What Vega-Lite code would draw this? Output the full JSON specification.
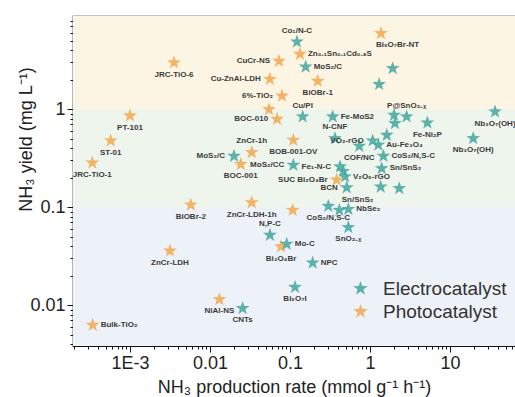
{
  "$schema": "https://vega.github.io/schema/vega-lite/v6.json",
  "width": 442,
  "height": 330,
  "autosize": {"type": "none"},
  "padding": {"left": 73, "top": 16, "right": 0, "bottom": 51},
  "background": "white",
  "config": {
    "view": {"stroke": "#111", "strokeWidth": 1.2},
    "font": "Liberation Sans"
  },
  "datasets": {
    "bands": [
      {"lo": 1, "hi": 100, "band": "high"},
      {"lo": 0.1, "hi": 1, "band": "mid"},
      {"lo": 0.0001, "hi": 0.1, "band": "low"}
    ],
    "pts": [
      {"px": 0.122, "py": 4.86, "type": "Electrocatalyst", "label": "Co₁/N-C", "pos": "above"},
      {"px": 0.157, "py": 2.70, "type": "Electrocatalyst", "label": "MoS₂/C", "pos": "right"},
      {"px": 1.92, "py": 2.60, "type": "Electrocatalyst", "label": "", "pos": "none"},
      {"px": 1.30, "py": 1.79, "type": "Electrocatalyst", "label": "", "pos": "none"},
      {"px": 0.144, "py": 0.835, "type": "Electrocatalyst", "label": "Cu/PI", "pos": "above"},
      {"px": 0.342, "py": 0.835, "type": "Electrocatalyst", "label": "Fe-MoS2", "pos": "right"},
      {"px": 2.0, "py": 0.869, "type": "Electrocatalyst", "label": "", "pos": "none"},
      {"px": 2.87, "py": 0.835, "type": "Electrocatalyst", "label": "P@SnO₂₋ₓ", "pos": "above"},
      {"px": 2.05, "py": 0.714, "type": "Electrocatalyst", "label": "", "pos": "none"},
      {"px": 5.21, "py": 0.725, "type": "Electrocatalyst", "label": "Fe-Ni₂P", "pos": "below"},
      {"px": 36.5, "py": 0.94, "type": "Electrocatalyst", "label": "Nb₃O₇(OH)", "pos": "below"},
      {"px": 19.5, "py": 0.502, "type": "Electrocatalyst", "label": "Nb₃O₇(OH)", "pos": "below"},
      {"px": 0.365, "py": 0.502, "type": "Electrocatalyst", "label": "N-CNF", "pos": "above"},
      {"px": 1.62, "py": 0.543, "type": "Electrocatalyst", "label": "", "pos": "none"},
      {"px": 1.08, "py": 0.475, "type": "Electrocatalyst", "label": "VO₂-rGO", "pos": "left"},
      {"px": 1.27, "py": 0.43, "type": "Electrocatalyst", "label": "Au-Fe₃O₄", "pos": "right"},
      {"px": 0.735, "py": 0.419, "type": "Electrocatalyst", "label": "COF/NC", "pos": "below"},
      {"px": 1.47, "py": 0.331, "type": "Electrocatalyst", "label": "CoS₂/N,S-C", "pos": "right"},
      {"px": 1.40, "py": 0.248, "type": "Electrocatalyst", "label": "Sn/SnS₂", "pos": "right"},
      {"px": 1.36, "py": 0.161, "type": "Electrocatalyst", "label": "", "pos": "none"},
      {"px": 2.32, "py": 0.155, "type": "Electrocatalyst", "label": "", "pos": "none"},
      {"px": 0.110, "py": 0.268, "type": "Electrocatalyst", "label": "MoS₂/CC", "pos": "left"},
      {"px": 0.422, "py": 0.258, "type": "Electrocatalyst", "label": "Fe₁-N-C", "pos": "left"},
      {"px": 0.464, "py": 0.232, "type": "Electrocatalyst", "label": "", "pos": "none"},
      {"px": 0.487, "py": 0.204, "type": "Electrocatalyst", "label": "V₂O₅-rGO", "pos": "right"},
      {"px": 0.512, "py": 0.158, "type": "Electrocatalyst", "label": "BCN", "pos": "left", "label2": "Sn/SnS₂"},
      {"px": 0.301, "py": 0.102, "type": "Electrocatalyst", "label": "CoS₂/N,S-C", "pos": "below"},
      {"px": 0.414, "py": 0.093, "type": "Electrocatalyst", "label": "", "pos": "none"},
      {"px": 0.536, "py": 0.095, "type": "Electrocatalyst", "label": "NbSe₂", "pos": "right"},
      {"px": 0.536, "py": 0.062, "type": "Electrocatalyst", "label": "SnO₂₋ₓ", "pos": "below"},
      {"px": 0.0562, "py": 0.0518, "type": "Electrocatalyst", "label": "N,P-C", "pos": "above"},
      {"px": 0.192, "py": 0.027, "type": "Electrocatalyst", "label": "NPC", "pos": "right"},
      {"px": 0.1155, "py": 0.0152, "type": "Electrocatalyst", "label": "Bi₅O₇I", "pos": "below"},
      {"px": 0.01995, "py": 0.331, "type": "Electrocatalyst", "label": "MoS₂/C", "pos": "left"},
      {"px": 0.0256, "py": 0.00925, "type": "Electrocatalyst", "label": "CNTs", "pos": "below"},
      {"px": 0.00355, "py": 2.97, "type": "Photocatalyst", "label": "JRC-TiO-6", "pos": "below"},
      {"px": 0.0729, "py": 3.09, "type": "Photocatalyst", "label": "CuCr-NS", "pos": "left"},
      {"px": 0.056, "py": 2.02, "type": "Photocatalyst", "label": "Cu-ZnAl-LDH", "pos": "left"},
      {"px": 0.0794, "py": 1.36, "type": "Photocatalyst", "label": "6%-TiO₂", "pos": "left"},
      {"px": 0.0546, "py": 0.99, "type": "Photocatalyst", "label": "", "pos": "none"},
      {"px": 0.069, "py": 0.79, "type": "Photocatalyst", "label": "BOC-010", "pos": "left"},
      {"px": 0.001, "py": 0.855, "type": "Photocatalyst", "label": "PT-101", "pos": "below"},
      {"px": 0.133, "py": 3.64, "type": "Photocatalyst", "label": "Zn₀.₁Sn₀.₁Cd₀.₈S", "pos": "right"},
      {"px": 0.222, "py": 1.93, "type": "Photocatalyst", "label": "BiOBr-1", "pos": "below"},
      {"px": 1.37, "py": 5.92, "type": "Photocatalyst", "label": "", "pos": "none", "label2": "Bi₅O₇Br-NT"},
      {"px": 0.110, "py": 0.483, "type": "Photocatalyst", "label": "BOB-001-OV", "pos": "below"},
      {"px": 0.000574, "py": 0.475, "type": "Photocatalyst", "label": "ST-01", "pos": "below"},
      {"px": 0.000338, "py": 0.283, "type": "Photocatalyst", "label": "JRC-TiO-1", "pos": "below"},
      {"px": 0.0332, "py": 0.361, "type": "Photocatalyst", "label": "ZnCr-1h", "pos": "above"},
      {"px": 0.0242, "py": 0.273, "type": "Photocatalyst", "label": "BOC-001", "pos": "below"},
      {"px": 0.383, "py": 0.189, "type": "Photocatalyst", "label": "SUC Bi₂O₄Br", "pos": "left"},
      {"px": 0.00575, "py": 0.105, "type": "Photocatalyst", "label": "BiOBr-2", "pos": "below"},
      {"px": 0.0332, "py": 0.111, "type": "Photocatalyst", "label": "ZnCr-LDH-1h", "pos": "below"},
      {"px": 0.108, "py": 0.093, "type": "Photocatalyst", "label": "", "pos": "none"},
      {"px": 0.0772, "py": 0.0394, "type": "Photocatalyst", "label": "Bi₃O₄Br", "pos": "below"},
      {"px": 0.00316, "py": 0.0358, "type": "Photocatalyst", "label": "ZnCr-LDH", "pos": "below"},
      {"px": 0.0131, "py": 0.0114, "type": "Photocatalyst", "label": "NiAl-NS", "pos": "below"},
      {"px": 0.000342, "py": 0.00625, "type": "Photocatalyst", "label": "Bulk-TiO₂", "pos": "right"},
      {"px": 0.091, "py": 0.0419, "type": "Electrocatalyst", "label": "Mo-C", "pos": "right"}
    ]
  },
  "resolve": {"scale": {"color": "independent"}, "axis": {"x": "independent", "y": "independent"}},
  "layer": [
    {
      "data": {"name": "bands"},
      "mark": {"type": "rect"},
      "encoding": {
        "x": {"datum": 0.0001, "type": "quantitative", "scale": {"type": "log", "domain": [0.000194, 64.9], "nice": false, "clamp": true}, "axis": null},
        "x2": {"datum": 1000},
        "y": {"field": "lo", "type": "quantitative", "scale": {"type": "log", "domain": [0.00382, 8.9], "nice": false, "clamp": true}, "axis": null},
        "y2": {"field": "hi"},
        "color": {"field": "band", "type": "nominal", "scale": {"domain": ["high", "mid", "low"], "range": ["#fdf5e3", "#eef5ec", "#edf1f8"]}, "legend": null}
      }
    },
    {
      "data": {"name": "pts"},
      "mark": {"type": "point", "shape": "M0,-1L0.235,-0.324L0.951,-0.309L0.38,0.124L0.588,0.809L0,0.4L-0.588,0.809L-0.38,0.124L-0.951,-0.309L-0.235,-0.324Z", "filled": true, "size": 210, "opacity": 0.88},
      "encoding": {
        "x": {
          "field": "px", "type": "quantitative",
          "scale": {"type": "log", "domain": [0.000194, 64.9], "nice": false, "clamp": true},
          "axis": {
            "orient": "bottom",
            "title": "NH₃ production rate (mmol g⁻¹ h⁻¹)",
            "titleFontSize": 18, "titleFontWeight": "normal", "titleColor": "#222", "titlePadding": 6,
            "grid": false, "domainColor": "#111", "tickColor": "#111", "labelColor": "#222",
            "labelFontSize": 18, "labelPadding": 2, "labelOverlap": false, "labelFlush": false,
            "tickSize": 6,
            "values": [0.001, 0.01, 0.1, 1, 10],
            "labelExpr": "datum.value < 0.002 ? '1E-3' : datum.value < 0.02 ? '0.01' : datum.value < 0.2 ? '0.1' : datum.value < 2 ? '1' : '10'"
          }
        },
        "y": {
          "field": "py", "type": "quantitative",
          "scale": {"type": "log", "domain": [0.00382, 8.9], "nice": false, "clamp": true},
          "axis": {
            "orient": "left",
            "title": "NH₃ yield (mg L⁻¹)",
            "titleFontSize": 18, "titleFontWeight": "normal", "titleColor": "#222",
            "titleX": -38, "titleY": 123, "titleAngle": 270, "titleBaseline": "bottom", "titleAnchor": "middle",
            "grid": false, "domainColor": "#111", "tickColor": "#111", "labelColor": "#222",
            "labelFontSize": 18, "labelPadding": 2, "labelOverlap": false, "labelFlush": false,
            "tickSize": 6,
            "values": [0.01, 0.1, 1],
            "labelExpr": "datum.value < 0.02 ? '0.01' : datum.value < 0.2 ? '0.1' : '1'"
          }
        },
        "color": {
          "field": "type", "type": "nominal",
          "scale": {"domain": ["Electrocatalyst", "Photocatalyst"], "range": ["#48a7a1", "#f2aa52"]},
          "legend": {
            "orient": "none", "legendX": 278, "legendY": 263, "title": null, "padding": 0,
            "labelFontSize": 19, "labelColor": "#333", "labelFont": "Liberation Sans",
            "symbolType": "M0,-1L0.235,-0.324L0.951,-0.309L0.38,0.124L0.588,0.809L0,0.4L-0.588,0.809L-0.38,0.124L-0.951,-0.309L-0.235,-0.324Z",
            "symbolSize": 230, "symbolOpacity": 0.88, "rowPadding": 3, "labelOffset": 13
          }
        }
      }
    },
    {
      "data": {"name": "pts"},
      "transform": [{"filter": "datum.pos == 'above'"}],
      "mark": {"type": "text", "fontSize": 8, "fontWeight": "bold", "color": "#3a3a3a", "baseline": "bottom", "dy": -7},
      "encoding": {
        "x": {"field": "px", "type": "quantitative", "scale": {"type": "log", "domain": [0.000194, 64.9], "nice": false, "clamp": true},
          "axis": {"orient": "bottom", "title": null, "labels": false, "domain": false, "grid": false, "tickSize": 3, "tickColor": "#111",
            "values": [0.0002,0.0003,0.0004,0.0005,0.0006,0.0007,0.0008,0.0009,0.002,0.003,0.004,0.005,0.006,0.007,0.008,0.009,0.02,0.03,0.04,0.05,0.06,0.07,0.08,0.09,0.2,0.3,0.4,0.5,0.6,0.7,0.8,0.9,2,3,4,5,6,7,8,9,20,30,40,50,60]}},
        "y": {"field": "py", "type": "quantitative", "scale": {"type": "log", "domain": [0.00382, 8.9], "nice": false, "clamp": true},
          "axis": {"orient": "left", "title": null, "labels": false, "domain": false, "grid": false, "tickSize": 3, "tickColor": "#111",
            "values": [0.004,0.005,0.006,0.007,0.008,0.009,0.02,0.03,0.04,0.05,0.06,0.07,0.08,0.09,0.2,0.3,0.4,0.5,0.6,0.7,0.8,0.9,2,3,4,5,6,7,8]}},
        "text": {"field": "label"}
      }
    },
    {
      "data": {"name": "pts"},
      "transform": [{"filter": "datum.pos == 'below'"}],
      "mark": {"type": "text", "fontSize": 8, "fontWeight": "bold", "color": "#3a3a3a", "baseline": "top", "dy": 8},
      "encoding": {
        "x": {"field": "px", "type": "quantitative", "scale": {"type": "log", "domain": [0.000194, 64.9], "nice": false, "clamp": true}, "axis": null},
        "y": {"field": "py", "type": "quantitative", "scale": {"type": "log", "domain": [0.00382, 8.9], "nice": false, "clamp": true}, "axis": null},
        "text": {"field": "label"}
      }
    },
    {
      "data": {"name": "pts"},
      "transform": [{"filter": "datum.pos == 'left'"}],
      "mark": {"type": "text", "fontSize": 8, "fontWeight": "bold", "color": "#3a3a3a", "align": "right", "baseline": "middle", "dx": -9},
      "encoding": {
        "x": {"field": "px", "type": "quantitative", "scale": {"type": "log", "domain": [0.000194, 64.9], "nice": false, "clamp": true}, "axis": null},
        "y": {"field": "py", "type": "quantitative", "scale": {"type": "log", "domain": [0.00382, 8.9], "nice": false, "clamp": true}, "axis": null},
        "text": {"field": "label"}
      }
    },
    {
      "data": {"name": "pts"},
      "transform": [{"filter": "datum.pos == 'right'"}],
      "mark": {"type": "text", "fontSize": 8, "fontWeight": "bold", "color": "#3a3a3a", "align": "left", "baseline": "middle", "dx": 8},
      "encoding": {
        "x": {"field": "px", "type": "quantitative", "scale": {"type": "log", "domain": [0.000194, 64.9], "nice": false, "clamp": true}, "axis": null},
        "y": {"field": "py", "type": "quantitative", "scale": {"type": "log", "domain": [0.00382, 8.9], "nice": false, "clamp": true}, "axis": null},
        "text": {"field": "label"}
      }
    },
    {
      "data": {"name": "pts"},
      "transform": [{"filter": "isValid(datum.label2)"}],
      "mark": {"type": "text", "fontSize": 8, "fontWeight": "bold", "color": "#3a3a3a", "align": "left", "baseline": "top", "dx": -5, "dy": 8},
      "encoding": {
        "x": {"field": "px", "type": "quantitative", "scale": {"type": "log", "domain": [0.000194, 64.9], "nice": false, "clamp": true}, "axis": null},
        "y": {"field": "py", "type": "quantitative", "scale": {"type": "log", "domain": [0.00382, 8.9], "nice": false, "clamp": true}, "axis": null},
        "text": {"field": "label2"}
      }
    }
  ]
}
